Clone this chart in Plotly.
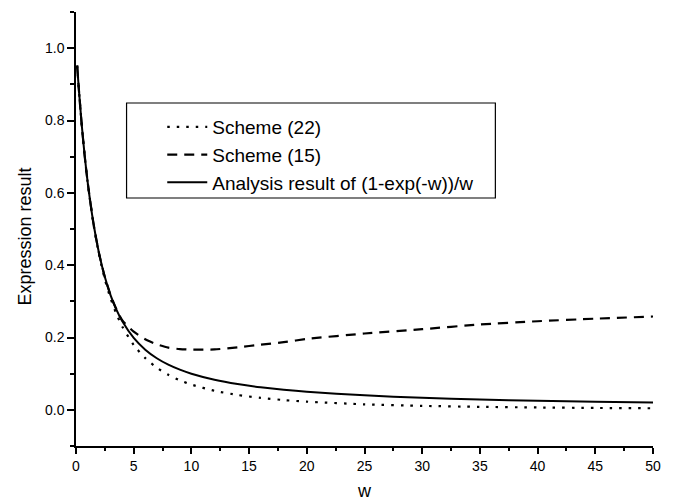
import plotly.graph_objects as go

# ---- data ----
w = [0.1, 0.25, 0.5, 0.75, 1, 1.5, 2, 2.5, 3, 3.5, 4, 5, 6, 7, 8, 9, 10,
     12, 14, 16, 18, 20, 25, 30, 35, 40, 45, 50]

scheme22 = [0.9516, 0.8848, 0.7869, 0.7033, 0.6316, 0.5161, 0.4286, 0.3609,
            0.3077, 0.2652, 0.2308, 0.1791, 0.1429, 0.1165, 0.0968, 0.0816,
            0.0698, 0.0526, 0.0411, 0.0330, 0.0270, 0.0226, 0.0152, 0.0110,
            0.0083, 0.0065, 0.0052, 0.0043]

scheme15 = [0.9516, 0.8848, 0.787, 0.703, 0.632, 0.518, 0.432, 0.367,
            0.317, 0.278, 0.248, 0.216, 0.195, 0.181, 0.172, 0.168,
            0.1665, 0.167, 0.173, 0.180, 0.187, 0.196, 0.211, 0.223,
            0.236, 0.245, 0.252, 0.258]

analysis = [0.9516, 0.8848, 0.7869, 0.7035, 0.6321, 0.5179, 0.4323, 0.3672,
            0.3167, 0.2771, 0.2454, 0.1987, 0.1663, 0.1427, 0.1250, 0.1111,
            0.1000, 0.0833, 0.0714, 0.0625, 0.0556, 0.0500, 0.0400, 0.0333,
            0.0286, 0.0250, 0.0222, 0.0200]

names = ["Scheme (22)", "Scheme (15)", "Analysis result of (1-exp(-w))/w"]

x_ticks = [0, 5, 10, 15, 20, 25, 30, 35, 40, 45, 50]
y_ticks = [0.0, 0.2, 0.4, 0.6, 0.8, 1.0]

# ---- layout geometry (pixels) ----
W, H = 673, 504
L, R, T, B = 76, 15, 12, 58
pw, ph = W - L - R, H - T - B


def px(xp):
    return (xp - L) / pw


def py(yp):
    return (H - B - yp) / ph


FONT = "Liberation Sans, Arial, sans-serif"

fig = go.Figure()
fig.add_trace(go.Scatter(x=w, y=scheme22, mode="lines", name=names[0],
                         line=dict(color="black", width=2.2, dash="2.5px,7px", shape="spline", smoothing=0.6)))
fig.add_trace(go.Scatter(x=w, y=scheme15, mode="lines", name=names[1],
                         line=dict(color="black", width=2.2, dash="10px,7px", shape="spline", smoothing=0.6)))
fig.add_trace(go.Scatter(x=w, y=analysis, mode="lines", name=names[2],
                         line=dict(color="black", width=2, shape="spline", smoothing=0.6)))

axis_common = dict(showline=True, linecolor="black", linewidth=1.5, ticks="outside",
                   tickcolor="black", tickwidth=1.5, showgrid=False, zeroline=False,
                   tickfont=dict(family=FONT, size=14, color="black"))

fig.update_layout(
    width=W, height=H, autosize=False,
    margin=dict(l=L, r=R, t=T, b=B, pad=0),
    plot_bgcolor="white", paper_bgcolor="white",
    font=dict(family=FONT, color="black"),
    xaxis=dict(range=[0, 50], tickvals=x_ticks, ticklen=6,
               minor=dict(dtick=2.5, tick0=0, ticks="outside", ticklen=3, tickcolor="black", tickwidth=1.5),
               **axis_common),
    yaxis=dict(range=[-0.1, 1.1], tickvals=y_ticks, tickformat=".1f", ticklen=7,
               minor=dict(dtick=0.1, tick0=0.1, ticks="outside", ticklen=4, tickcolor="black", tickwidth=1.5),
               **axis_common),
    showlegend=True,
    legend=dict(x=px(163), y=py(108), xanchor="left", yanchor="top",
                bgcolor="rgba(0,0,0,0)", borderwidth=0,
                font=dict(family=FONT, size=19, color="black"),
                itemwidth=40, tracegroupgap=0),
    shapes=[dict(type="rect", xref="paper", yref="paper",
                 x0=px(127), x1=px(499), y0=py(198), y1=py(103),
                 line=dict(color="black", width=1.2), fillcolor="rgba(0,0,0,0)")],
    annotations=[
        dict(text="Expression result", xref="paper", yref="paper",
             x=px(25), y=py(236), xanchor="center", yanchor="middle",
             textangle=-90, showarrow=False, font=dict(family=FONT, size=18, color="black")),
        dict(text="w", xref="paper", yref="paper",
             x=px(367), y=py(491), xanchor="center", yanchor="middle",
             showarrow=False, font=dict(family=FONT, size=18, color="black")),
    ],
)

fig.write_html("out.html")
